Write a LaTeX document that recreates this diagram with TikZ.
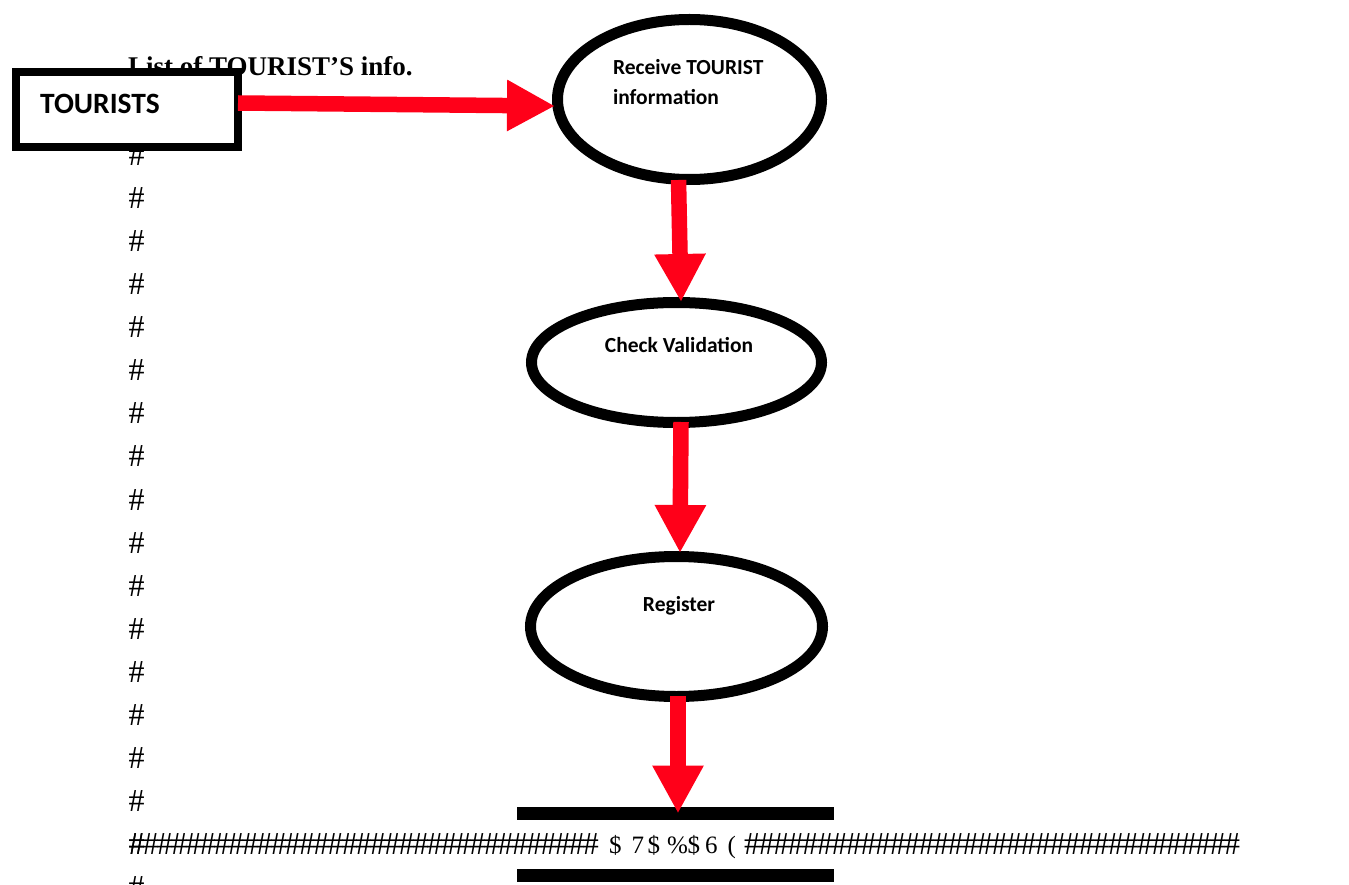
\documentclass[tikz,border=0pt]{standalone}
\usepackage{fontspec}
\setmainfont{Liberation Serif}
\newfontfamily\calfont{Carlito}
\usetikzlibrary{arrows.meta,shapes.geometric,calc}
\definecolor{flowred}{RGB}{255,0,25}
\begin{document}
\begin{tikzpicture}[x=1pt,y=-1pt,
  proc/.style={ellipse, draw=black, line width=11pt, fill=white, inner sep=0pt},
  flow/.style={draw=flowred, line width=15.5pt, -{Triangle[length=48pt,width=48pt]}},
  hash/.style={inner sep=0pt, outer sep=0pt, anchor=base west, font=\fontsize{32}{32}\selectfont},
  midch/.style={inner sep=0pt, outer sep=0pt, anchor=base west, font=\fontsize{25}{25}\selectfont},
  proctxt/.style={inner sep=0pt, outer sep=0pt, anchor=base, font=\calfont\bfseries\fontsize{21.5}{21.5}\selectfont},
  bar/.style={line width=13pt, draw=black}]
\useasboundingbox (0,0) rectangle (1349,885);
\clip (0,0) rectangle (1349,885);
\fill[white] (0,0) rectangle (1349,885);
% label text and filler characters
\node[inner sep=0pt, anchor=base west, font=\bfseries\fontsize{27}{27}\selectfont] (listtxt) at (128,75.5) {List of TOURIST’S info.};
\foreach \k in {0,...,16} {\node[hash] (hc\k) at (128.5,{165.5+\k*43.07}) {\#};}
\foreach \i in {0,...,32} {\node[hash] (hl\i) at ({128.5+\i*14.2},854.6) {\#};}
\foreach \i in {0,...,33} {\node[hash] (hr\i) at ({744+\i*14.55},854.6) {\#};}
\node[hash] (hcb) at (128.5,897.7) {\#};
% external entity
\node[draw=black, line width=8pt, fill=white, minimum width=222pt, minimum height=75pt, inner sep=0pt] (tour) at (127,109.5) {};
\node[inner sep=0pt, anchor=base west, font=\calfont\bfseries\fontsize{29.5}{29.5}\selectfont] (tourtxt) at (40,113.5) {TOURISTS};
% processes
\node[proc, minimum width=264pt, minimum height=160pt] (rec) at (689.5,99.5) {};
\node[proctxt, anchor=base west] (rectxt1) at (613,75) {Receive TOURIST};
\node[proctxt, anchor=base west] (rectxt2) at (613,105) {information};
\node[proc, minimum width=290pt, minimum height=120pt] (chk) at (676.5,362.5) {};
\node[proctxt] (chktxt) at (679,352) {Check Validation};
\node[proc, minimum width=292pt, minimum height=140pt] (reg) at (676.5,626.5) {};
\node[proctxt] (regtxt) at (679,611) {Register};
% data store
\node[inner sep=0pt, outer sep=0pt, minimum width=317pt, minimum height=62pt] (store) at (675.5,844.5) {};
\draw[bar] (store.north west) -- (store.north east);
\draw[bar] (store.south west) -- (store.south east);
\node[midch] (m1) at (609,853) {\$};
\node[midch] (m2) at (631.5,853) {7};
\node[midch] (m3) at (647.5,853) {\$};
\node[midch] (m4) at (667,853) {\%};
\node[midch] (m5) at (687.5,853) {\$};
\node[midch] (m6) at (705,853) {6};
\node[midch] (m7) at (727.5,853) {(};
% flows
\draw[flow] ($(tour.east)+(-4,-6.5)$) -- ($(rec.west)+(3,6.5)$);
\draw[flow] ($(rec.south)+(-11,-5)$) -- ($(chk.north)+(4.5,5)$);
\draw[flow] ($(chk.south)+(4.5,-6)$) -- ($(reg.north)+(3.5,2)$);
\draw[flow] ($(reg.south)+(1.5,-6)$) -- ($(store.north)+(2.5,0)$);
\end{tikzpicture}
\end{document}
